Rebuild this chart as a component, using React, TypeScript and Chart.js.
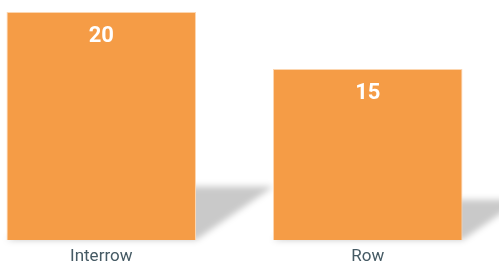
import React, { useEffect, useRef } from "react";
import { Chart, registerables } from "chart.js";

Chart.register(...registerables);

const categories = ["Interrow", "Row"];
const values = [20, 15];
const yMax = 20;

const BAR_COLOR = "#F59C46";

const shadowPlugin = {
  id: "barShadow",
  beforeDatasetsDraw(chart: any) {
    const ctx = chart.ctx;
    const meta = chart.getDatasetMeta(0);
    ctx.save();
    ctx.filter = "blur(3px)";
    ctx.fillStyle = "rgba(0,0,0,0.21)";
    meta.data.forEach((bar: any) => {
      const p = bar.getProps(["x", "y", "base", "width"], true);
      const left = p.x - p.width / 2;
      const right = p.x + p.width / 2;
      const h = p.base - p.y;
      const k = 0.34;
      const s = 0.235;
      ctx.beginPath();
      ctx.moveTo(left, p.base);
      ctx.lineTo(right, p.base);
      ctx.lineTo(right + k * h, p.base - s * h);
      ctx.lineTo(left + k * h, p.base - s * h);
      ctx.closePath();
      ctx.fill();
    });
    ctx.restore();
  },
};

const valueLabelPlugin = {
  id: "valueLabels",
  afterDatasetsDraw(chart: any) {
    const ctx = chart.ctx;
    const meta = chart.getDatasetMeta(0);
    const data = chart.data.datasets[0].data;
    ctx.save();
    ctx.fillStyle = "#ffffff";
    ctx.font = "bold 22px Roboto";
    ctx.textAlign = "center";
    ctx.textBaseline = "alphabetic";
    meta.data.forEach((bar: any, i: number) => {
      const p = bar.getProps(["x", "y"], true);
      ctx.fillText(String(data[i]), p.x, p.y + 29.5);
    });
    ctx.restore();
  },
};

export default function App() {
  const canvasRef = useRef<HTMLCanvasElement | null>(null);

  useEffect(() => {
    if (!canvasRef.current) return;
    const chart = new Chart(canvasRef.current, {
      type: "bar",
      data: {
        labels: categories,
        datasets: [
          {
            data: values,
            backgroundColor: BAR_COLOR,
            borderColor: "rgba(252,214,176,1)",
            borderWidth: 1,
            categoryPercentage: 1,
            barPercentage: 0.711,
          },
        ],
      },
      options: {
        animation: false,
        responsive: true,
        maintainAspectRatio: false,
        layout: { padding: { top: 12, left: 0, right: 0, bottom: 0 } },
        plugins: {
          legend: { display: false },
          tooltip: { enabled: false },
        },
        scales: {
          y: { display: false, min: 0, max: yMax },
          x: {
            grid: { display: false, drawTicks: false, tickLength: 0 },
            border: { display: false },
            ticks: {
              color: "#455A64",
              font: { family: "Roboto", size: 17, lineHeight: 1.2 },
              padding: 6.3,
            },
            afterFit: (scale: any) => {
              scale.height = 28;
            },
          },
        },
      },
      plugins: [shadowPlugin, valueLabelPlugin],
    });
    return () => chart.destroy();
  }, []);

  return (
    <div
      style={{
        position: "fixed",
        left: 0,
        top: 0,
        width: 499,
        height: 268,
        overflow: "hidden",
        background: "#ffffff",
      }}
    >
      <div style={{ position: "absolute", left: -32, top: 0, width: 533, height: 268 }}>
        <canvas ref={canvasRef} />
      </div>
    </div>
  );
}
